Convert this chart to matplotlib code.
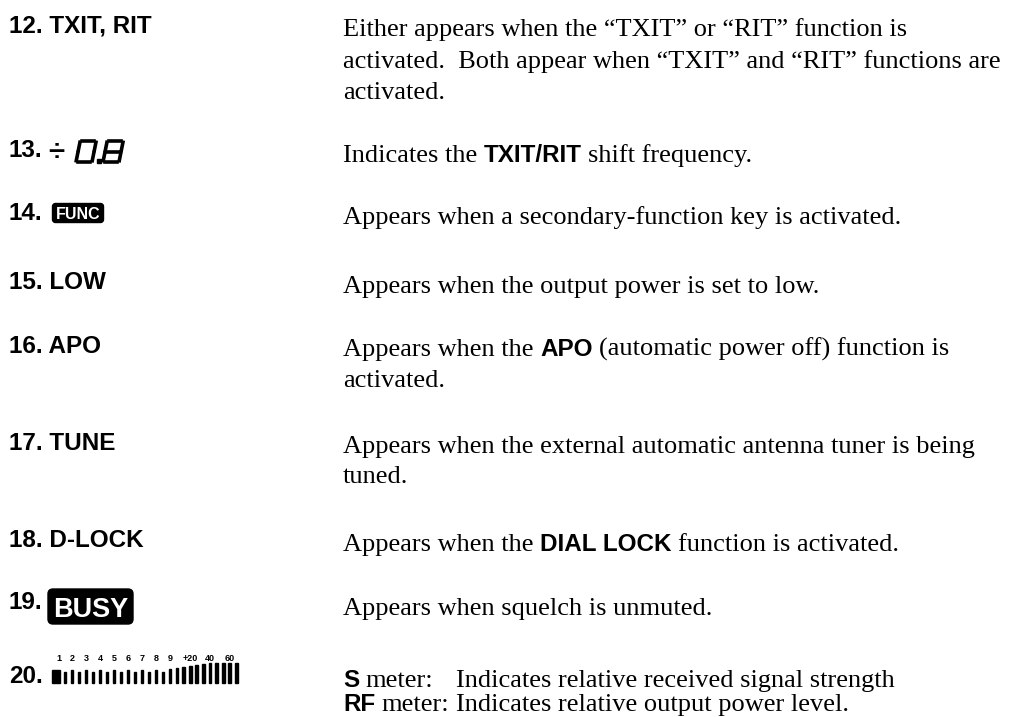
import matplotlib
matplotlib.use("Agg")
import matplotlib.pyplot as plt
from matplotlib.font_manager import FontProperties
from matplotlib.patches import FancyBboxPatch, Rectangle

# ---------------- content ----------------
item_numbers = ["12.", "13.", "14.", "15.", "16.", "17.", "18.", "19.", "20."]
item_names = ["TXIT, RIT", "", "", "LOW", "APO", "TUNE", "D-LOCK", "", ""]
label_baselines = [33, 157, 220, 289, 353, 450, 547, 609, 683]

# description lines: list of runs (text, style) ; style 'r' = serif regular, 'b' = sans bold
desc_lines = [
    (36,  [("Either appears when the “TXIT” or “RIT” function is", "r")]),
    (68,  [("activated.  Both appear when “TXIT” and “RIT” functions are", "r")]),
    (99,  [("activated.", "r")]),
    (162, [("Indicates the ", "r"), ("TXIT/RIT", "b"), (" shift frequency.", "r")]),
    (224, [("Appears when a secondary-function key is activated.", "r")]),
    (293, [("Appears when the output power is set to low.", "r")]),
    (356, [("Appears when the ", "r"), ("APO", "b"), (" (automatic power off) function is", "r")]),
    (387, [("activated.", "r")]),
    (453, [("Appears when the external automatic antenna tuner is being", "r")]),
    (483, [("tuned.", "r")]),
    (551, [("Appears when the ", "r"), ("DIAL LOCK", "b"), (" function is activated.", "r")]),
    (615, [("Appears when squelch is unmuted.", "r")]),
]
meter_lines = [
    (687, "S", " meter:", "Indicates relative received signal strength"),
    (711, "RF", " meter:", "Indicates relative output power level."),
]

lcd_digits = ["0", ".", "8"]
meter_labels = ["1", "2", "3", "4", "5", "6", "7", "8", "9", "+20", "40", "60"]
meter_label_bar = [0, 2, 4, 6, 8, 10, 12, 14, 16, 19, 22, 25]
meter_bar_heights = [13, 11, 13, 11, 13, 11, 13, 11, 13, 11, 13, 11, 13, 11, 13, 11, 14,
                     15, 16, 17, 18, 19, 20, 20, 20, 20, 20]

# ---------------- figure ----------------
W, H = 1009, 717
fig = plt.figure(figsize=(W / 100, H / 100), dpi=100)
fig.patch.set_facecolor("white")
ax = fig.add_axes([0, 0, 1, 1])
ax.set_xlim(0, W)
ax.set_ylim(H, 0)
ax.axis("off")
renderer = fig.canvas.get_renderer()

serif = FontProperties(family="Liberation Serif", size=19)
sansb = FontProperties(family="Liberation Sans", weight="bold", size=17.5)
styles = {"r": serif, "b": sansb}


def text_width(s, fp):
    t1 = ax.text(0, 0, s + "|", fontproperties=fp)
    w1 = t1.get_window_extent(renderer).width
    t1.remove()
    t2 = ax.text(0, 0, "|", fontproperties=fp)
    w2 = t2.get_window_extent(renderer).width
    t2.remove()
    return w1 - w2


def draw_runs(x, y, runs):
    for s, st in runs:
        fp = styles[st]
        stripped = s.lstrip(" ")
        lead = len(s) - len(stripped)
        if lead:
            x += text_width(" " * lead, fp)
        if stripped:
            ax.text(x, y, stripped, fontproperties=fp, va="baseline", ha="left", color="black")
            x += text_width(stripped, fp)
    return x


# left labels
LX = 9
for num, name, yb in zip(item_numbers, item_names, label_baselines):
    txt = num + (" " + name if name else "")
    ax.text(LX, yb, txt, fontproperties=sansb, va="baseline", ha="left", color="black")

# right descriptions
RX = 343
for yb, runs in desc_lines:
    draw_runs(RX, yb, runs)

# S / RF meter lines, "Indicates" aligned
ends = []
for yb, b, m, rest in meter_lines:
    ends.append(draw_runs(RX, yb, [(b, "b"), (m, "r")]))
ind_x = max(ends) + text_width(" ", serif)
for yb, b, m, rest in meter_lines:
    ax.text(ind_x, yb, rest, fontproperties=serif, va="baseline", ha="left", color="black")

# ---- 13: ÷ 0.8 LCD ----
ax.text(48, 160, "÷", fontproperties=FontProperties(family="Liberation Sans", weight="bold", size=21),
        va="baseline", ha="left", color="black")
SEG = {"a": ((0, 1), (1, 1)), "b": ((1, 1), (1, 0.5)), "c": ((1, 0.5), (1, 0)),
       "d": ((0, 0), (1, 0)), "e": ((0, 0), (0, 0.5)), "f": ((0, 0.5), (0, 1)),
       "g": ((0, 0.5), (1, 0.5))}
DIGSEG = {"0": "abcdef", "8": "abcdefg"}


def seg_digit(x0, yb, d, w=16, h=21, skew=0.2, gap=0.12):
    for s in DIGSEG[d]:
        (u1, v1), (u2, v2) = SEG[s]
        du, dv = u2 - u1, v2 - v1
        u1g, v1g = u1 + du * gap, v1 + dv * gap
        u2g, v2g = u2 - du * gap, v2 - dv * gap
        xs = [x0 + u * w + v * h * skew for u, v in ((u1g, v1g), (u2g, v2g))]
        ys = [yb - v * h for u, v in ((u1g, v1g), (u2g, v2g))]
        ax.plot(xs, ys, color="black", lw=2.6, solid_capstyle="projecting")


lx = 76
for d in lcd_digits:
    if d == ".":
        ax.add_patch(Rectangle((lx - 1, 159), 3.5, 3.5, color="black"))
        lx += 5
    else:
        seg_digit(lx, 162, d)
        lx += 22

# ---- 14: FUNC box ----
ax.add_patch(FancyBboxPatch((54, 205), 48, 16, boxstyle="round,pad=1.5,rounding_size=3",
                            fc="black", ec="black"))
ax.text(78, 219, "FUNC", fontproperties=FontProperties(family="Liberation Sans", weight="bold", size=11.5),
        color="white", ha="center", va="baseline")

# ---- 19: BUSY box ----
ax.add_patch(FancyBboxPatch((50, 591), 81, 31, boxstyle="round,pad=2,rounding_size=5",
                            fc="black", ec="black"))
ax.text(90.5, 617, "BUSY", fontproperties=FontProperties(family="Liberation Sans", weight="bold", size=19.5),
        color="white", ha="center", va="baseline")

# ---- 20: S/RF meter ----
ax.add_patch(Rectangle((52, 670), 8, 13, color="black"))
bar_x = [52 + 4]
x = 65
for i in range(1, len(meter_bar_heights)):
    bar_x.append(x)
    ax.add_patch(Rectangle((x - 1, 683 - meter_bar_heights[i]), 2.2 if i <= 16 else 2.8,
                           meter_bar_heights[i], color="black"))
    x += 7 if i < 16 else 6.6
small = FontProperties(family="Liberation Sans", weight="bold", size=6.5)
for lab, bi in zip(meter_labels, meter_label_bar):
    bx = bar_x[bi] if bi > 0 else 59
    ax.text(bx, 661, lab, fontproperties=small, ha="center", va="baseline", color="black")

fig.savefig("out.png", dpi=100, facecolor="white")
